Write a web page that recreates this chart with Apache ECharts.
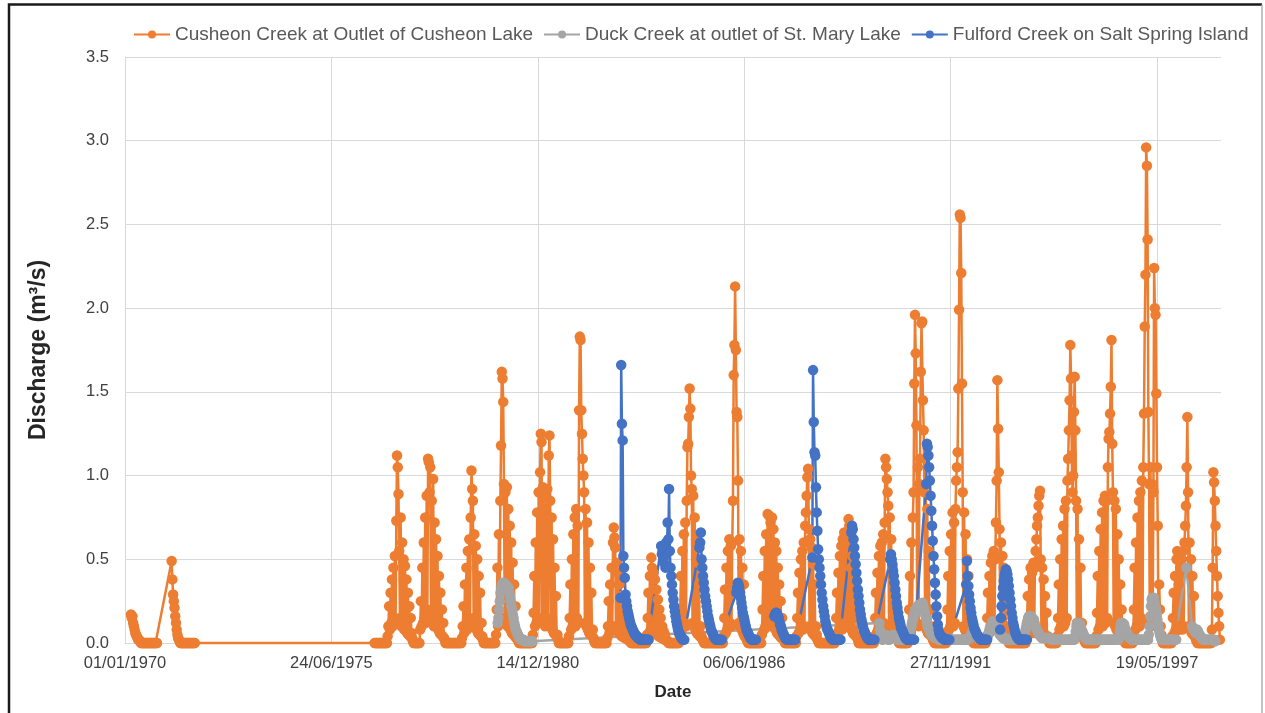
<!DOCTYPE html>
<html>
<head>
<meta charset="utf-8">
<title>Discharge</title>
<script src="https://cdn.jsdelivr.net/npm/echarts@6.0.0/dist/echarts.min.js"></script>
<style>
  html, body { margin: 0; padding: 0; background: #fff; }
  #chart { width: 1265px; height: 713px; }
</style>
</head>
<body>
<div id="chart"></div>
<script>
// weekly readings (m3/s); each block starts on the date in the matching *Start array
const seriesNames = [
  'Cusheon Creek at Outlet of Cusheon Lake',
  'Duck Creek at outlet of St. Mary Lake',
  'Fulford Creek on Salt Spring Island'
]

const cusheonStart = ['1970-02-28', '1971-03-29', '1976-08-16']
const cusheonFlow = [
  [.17,.15,.16,.12,.10,.08,.06,.05,.04,.03,.02,.02,.01,.01,0,0,0,0,0,0,0,0,0,0,0,0,0,0,0,0,0,0,0,0,0,0,0],
  [.49,.38,.29,.25,.21,.16,.12,.08,.05,.03,.02,.01,0,0,0,0,0,0,0,0,0,0,0,0,0,0,0,0,0,0,0,0,0],
  [
    0,0,0,0,0,0,0,0,0,0,0,0,0,0,0,0,0,0,.04,.10,.22,.08,.30,.12,.38,.10,.45,.15,.52,.12,.73,1.12,1.05,.89,.55,.15,.75,.10,.60,.12,.50,.08,.46,.10,.38,.06,.30,.05,.22,.04,.15,.06,
    .03,.01,0,0,0,0,0,0,0,0,0,.08,.25,.10,.45,.12,.60,.15,.75,.12,.88,.20,1.10,1.08,.90,1.05,.15,.85,.12,.98,.10,.72,.15,.62,.10,.52,.08,.40,.06,.30,.05,.20,.04,.12,.03,.02,0,0,0,0,0,0,
    0,0,0,0,0,0,0,0,0,0,0,0,0,0,0,0,0,.03,.10,.22,.06,.35,.10,.45,.08,.55,.12,.62,.10,.75,1.03,.92,.85,.15,.65,.10,.58,.08,.50,.06,.40,.05,.30,.04,.12,.04,.02,0,0,0,0,0,
    0,0,0,0,0,0,0,0,0,0,0,0,.05,.20,.45,.10,.65,.15,.85,1.18,1.62,1.58,1.44,.95,.15,.90,.12,.93,.10,.80,.12,.70,.08,.60,.06,.48,.05,.35,.04,.22,.03,.06,.03,.01,0,0,0,0,0,0,0,0,
    0,0,0,0,0,0,0,0,0,0,0,.05,.18,.40,.10,.60,.12,.78,.15,.90,.12,1.02,1.25,1.20,.15,.93,.12,.88,.10,.80,.15,.92,.12,1.12,1.24,.85,.10,.75,.08,.62,.06,.45,.05,.28,.04,.05,.02,0,0,0,0,0,
    0,0,0,0,0,0,0,0,0,.04,.15,.35,.08,.50,.10,.65,.12,.75,.10,.80,.15,.70,.12,1.39,1.83,1.81,1.39,1.25,1.10,1.0,.90,.12,.80,.10,.72,.08,.60,.06,.45,.05,.30,.04,.08,.03,.01,0,0,0,0,0,0,0,
    0,0,0,0,0,0,0,0,0,0,.03,.10,.25,.06,.35,.08,.45,.10,.60,.69,.63,.57,.10,.48,.08,.42,.06,.35,.05,.28,.04,.22,.04,.18,.03,.12,.03,.08,.02,.04,.02,.01,.01,0,0,0,0,0,0,0,0,0,
    0,0,0,0,0,0,0,0,0,0,0,0,0,.05,.15,.30,.06,.40,.08,.51,.45,.10,.42,.08,.38,.06,.32,.05,.26,.04,.20,.04,.15,.03,.10,.03,.07,.02,.05,.02,.02,.01,.01,0,0,0,0,0,0,0,0,0,
    0,0,0,0,0,0,.05,.20,.40,.08,.55,.10,.65,.12,.72,.10,.85,1.17,1.19,1.35,1.52,1.40,1.0,.92,.12,.88,.10,.75,.08,.62,.06,.48,.05,.35,.04,.10,.05,.03,.02,.01,0,0,0,0,0,0,0,0,0,0,0,0,
    0,0,0,0,0,0,0,0,0,0,0,0,0,0,0,.04,.15,.32,.06,.45,.08,.55,.10,.62,.12,.58,.10,.60,.85,1.60,1.78,2.13,1.75,1.38,1.35,.97,.12,.62,.10,.55,.08,.45,.06,.35,.04,.10,.05,.02,.01,0,0,0,
    0,0,0,0,0,0,0,0,0,0,0,0,0,0,0,0,.05,.20,.40,.08,.55,.10,.65,.12,.77,.10,.76,.12,.72,.10,.75,.12,.68,.10,.60,.08,.55,.06,.45,.05,.35,.04,.25,.03,.15,.03,.04,.02,0,0,0,0,
    0,0,0,0,0,0,0,0,0,0,0,0,.04,.15,.30,.06,.42,.08,.50,.10,.55,.08,.60,.10,.70,.78,.88,.99,1.04,.68,.10,.62,.08,.57,.06,.47,.05,.35,.04,.10,.05,.02,.01,0,0,0,0,0,0,0,0,0,
    0,0,0,0,0,0,0,0,0,0,0,0,0,0,.04,.15,.30,.06,.42,.08,.52,.10,.58,.08,.62,.10,.66,.12,.60,.10,.64,.12,.74,.70,.10,.45,.08,.52,.06,.42,.05,.30,.04,.18,.04,.02,0,0,0,0,0,0,
    0,0,0,0,0,0,0,0,0,0,0,0,0,0,0,0,.04,.15,.30,.06,.42,.08,.52,.10,.58,.08,.60,.10,.65,.12,.72,1.10,1.05,.98,.90,.82,.10,.75,.08,.62,.06,.45,.05,.30,.04,.18,.03,.05,.02,.01,0,0,
    0,0,0,0,0,0,0,0,0,0,0,.05,.20,.40,.08,.60,.10,.75,.90,1.55,1.96,1.73,1.30,.12,1.05,.10,.95,1.10,1.62,1.91,1.92,1.45,1.27,.90,.10,.95,.08,.80,.06,.55,.05,.20,.10,.05,.03,.02,.01,0,0,0,0,0,
    0,0,0,0,0,0,0,0,0,0,0,0,.05,.20,.40,.08,.55,.10,.65,.12,.78,.10,.72,.12,.80,.97,1.05,1.14,1.52,1.99,2.56,2.54,2.21,1.55,.90,.10,.78,.08,.65,.06,.50,.05,.40,.04,.15,.08,.04,.02,.01,0,0,0,
    0,0,0,0,0,0,0,0,0,0,0,0,0,0,0,.04,.15,.30,.06,.40,.08,.48,.10,.52,.08,.55,.10,.50,.72,.97,1.57,1.28,1.02,.68,.10,.60,.08,.52,.06,.45,.05,.30,.04,.10,.05,.02,0,0,0,0,0,0,
    0,0,0,0,0,0,0,0,0,0,0,0,0,0,0,0,0,0,.04,.12,.28,.05,.38,.06,.45,.08,.42,.06,.48,.08,.45,.55,.62,.70,.75,.82,.88,.91,.50,.08,.45,.06,.38,.05,.28,.04,.18,.03,.04,.02,0,0,
    0,0,0,0,0,0,0,0,0,.04,.15,.35,.08,.50,.10,.62,.12,.70,.10,.80,.12,.85,.15,.97,1.10,1.27,1.45,1.78,1.58,1.12,.90,1.00,1.38,1.59,1.27,.85,.12,.80,.10,.62,.08,.45,.06,.12,.05,.03,.02,.01,0,0,0,0,
    0,0,0,0,0,0,0,0,0,0,0,.04,.18,.40,.08,.55,.10,.68,.12,.78,.10,.85,.15,.88,.12,.85,.15,1.05,1.22,1.26,1.37,1.53,1.81,1.19,.90,.12,.85,.10,.80,.08,.65,.06,.50,.05,.35,.04,.20,.08,.04,.02,.01,0,
    0,0,0,0,0,0,0,0,0,0,.05,.20,.45,.08,.60,.10,.75,.12,.85,.10,.90,.15,.97,.12,1.05,1.37,1.89,2.20,2.96,2.85,2.41,1.38,.95,.12,1.05,.10,.95,.12,.90,2.24,2.0,1.96,1.49,1.05,.70,.10,.35,.20,.10,.05,.02,0,
    0,0,0,0,0,0,0,0,0,0,0,0,.04,.15,.30,.06,.40,.08,.50,.55,.10,.35,.08,.45,.10,.50,.08,.55,.10,.60,.70,.82,1.05,1.35,.90,.10,.60,.08,.50,.06,.40,.05,.28,.04,.04,.02,.01,0,0,0,0,0,
    0,0,0,0,0,0,0,0,0,0,0,0,0,0,0,.08,.45,1.02,.96,.85,.70,.55,.40,.28,.18,.10,.02
  ]
]

const duckStart = ['1979-11-21', '1990-01-05']
const duckFlow = [
  [.12,.15,.20,.25,.30,.33,.35,.36,.35,.36,.34,.35,.33,.34,.32,.33,.30,.28,.25,.22,.20,.17,.15,.12,.10,.08,.07,.06,.05,.04,.03,.03,.02,.02,.02,.02,.02,.01,.01,.01,.01,.01,.01,.01,.01,.01,.01,.01,.01],
  [
    .12,.08,.05,.03,.02,.02,.03,.04,.05,.04,.03,.03,.02,.02,.02,.03,.03,.04,.04,.05,.04,.04,.03,.03,.03,.02,.02,.02,.02,.02,.02,.02,.02,.02,.02,.02,.02,.02,.02,.03,.03,.04,.05,.07,.09,.11,.13,.15,.17,.19,.20,.20,
    .21,.22,.22,.23,.22,.21,.20,.22,.24,.22,.20,.18,.16,.14,.12,.10,.09,.08,.07,.06,.05,.05,.04,.04,.04,.03,.03,.03,.03,.03,.02,.02,.02,.02,.02,.02,.02,.02,.02,.02,.02,.02,.02,.02,.02,.02,.02,.02,.02,.02,.02,.02,
    .02,.02,.02,.02,.02,.02,.02,.02,.02,.02,.02,.02,.02,.02,.02,.02,.02,.02,.02,.02,.03,.03,.04,.05,.06,.07,.08,.07,.06,.05,.04,.04,.03,.03,.03,.03,.02,.02,.02,.02,.02,.02,.02,.02,.02,.03,.04,.05,.07,.09,.10,.10,
    .12,.13,.12,.11,.12,.10,.09,.10,.08,.07,.06,.05,.05,.04,.04,.03,.03,.03,.03,.02,.02,.02,.02,.02,.02,.02,.02,.02,.02,.02,.02,.02,.02,.02,.02,.02,.02,.02,.02,.02,.02,.02,.03,.03,.04,.05,.07,.09,.11,.13,.15,.16,
    .16,.15,.16,.14,.15,.13,.14,.12,.10,.09,.08,.07,.06,.05,.05,.04,.04,.03,.03,.03,.03,.03,.03,.03,.03,.03,.03,.03,.03,.03,.02,.02,.02,.02,.02,.02,.02,.02,.02,.02,.02,.02,.02,.02,.02,.02,.02,.02,.02,.02,.02,.02,
    .02,.02,.02,.02,.02,.02,.02,.02,.02,.02,.02,.04,.07,.10,.12,.11,.12,.10,.11,.09,.08,.07,.06,.05,.04,.03,.03,.02,.02,.02,.02,.02,.02,.02,.02,.02,.02,.02,.02,.02,.02,.02,.02,.02,.02,.02,.02,.02,.02,.02,.02,.02,
    .02,.02,.02,.02,.02,.02,.02,.02,.02,.02,.02,.02,.02,.02,.02,.02,.02,.02,.02,.02,.04,.07,.10,.12,.11,.12,.10,.11,.09,.08,.07,.06,.05,.04,.03,.03,.03,.02,.02,.02,.02,.02,.02,.02,.02,.02,.02,.02,.02,.02,.02,.02,
    .02,.02,.02,.02,.02,.02,.02,.02,.02,.05,.10,.16,.22,.26,.27,.25,.27,.24,.22,.20,.17,.14,.11,.08,.06,.04,.03,.02,.02,.02,.02,.02,.02,.02,.02,.02,.02,.02,.02,.02,.02,.02,.02,.02,.02,.02,.02,.02,null,null,null,null,
    null,null,null,null,null,null,null,null,null,.45,null,null,null,null,null,null,null,.10,.09,.08,.08,.07,.06,.07,.08,.07,.06,.05,.04,.04,.03,.03,.02,.02,.02,.02,.02,.02,.02,.02,.02,.02,.02,.02,.02,.02,.02,.02,.02,.01
  ]
]

const fulfordStart = ['1983-02-23', '1984-03-23', '1985-03-29', '1986-03-22', '1987-03-25', '1988-03-27',
  '1989-04-09', '1990-04-21', '1991-04-05', '1992-04-26', '1993-03-21']
const fulfordFlow = [
  [.27,1.66,1.31,1.21,.52,.45,.39,.29,.25,.22,.19,.17,.15,.13,.11,.10,.09,.08,.07,.06,.05,.05,.04,.04,.03,.03,.03,.02,.02,.02,.02,.02,.02,.02,.02,.02,.02,.02,.02,.02],
  [.58,.53,.55,.50,.48,.52,.45,.60,.55,.72,.62,.92,.55,.45,.40,.35,.30,.26,.22,.19,.16,.13,.11,.09,.07,.06,.05,.04,.03,.03,.02,.02,.02],
  [.57,.60,.66,.50,.45,.40,.36,.32,.28,.25,.22,.19,.16,.14,.12,.10,.08,.07,.06,.05,.04,.03,.03,.02,.02,.02,.02,.02,.02,.02,.02,.02],
  [.30,.33,.36,.35,.33,.30,.27,.24,.21,.18,.16,.14,.12,.10,.08,.07,.06,.05,.04,.03,.03,.02,.02,.02,.02,.02,.02,.02],
  [.16,.17,.18,.18,.17,.16,.15,.13,.11,.10,.08,.07,.06,.05,.04,.03,.03,.02,.02,.02,.02,.02,.02,.02,.02,.02,.02,.02,.02,.02],
  [.51,1.63,1.32,1.14,1.12,.93,.78,.67,.56,.50,.45,.40,.35,.30,.26,.22,.19,.16,.13,.11,.09,.08,.07,.06,.05,.04,.03,.03,.02,.02,.02,.02,.02,.02,.02,.02,.02,.02,.02,.02],
  [.66,.70,.68,.62,.57,.52,.47,.42,.37,.32,.28,.24,.20,.17,.14,.12,.10,.08,.07,.06,.05,.04,.03,.03,.02,.02,.02,.02,.02,.02,.02,.02,.02],
  [.50,.53,.50,.47,.43,.40,.36,.32,.28,.24,.21,.18,.15,.13,.11,.09,.08,.07,.06,.05,.04,.03,.03,.02,.02,.02,.02,.02,.02,.02,.02,.02,.02,.02],
  [.95,1.19,1.17,1.12,1.05,.97,.88,.79,.70,.61,.52,.44,.36,.29,.22,.16,.11,.08,.06,.05,.04,.04,.03,.03,.03,.02,.02,.02,.02,.02,.02,.02,.02],
  [.35,.49,.40,.34,.29,.25,.21,.18,.15,.13,.11,.09,.08,.07,.06,.05,.04,.04,.03,.03,.02,.02,.02,.02,.02,.02,.02,.02,.02,.02],
  [.08,.15,.22,.28,.33,.37,.40,.42,.44,.43,.41,.38,.34,.30,.26,.22,.18,.15,.12,.10,.08,.06,.05,.04,.03,.03,.02,.02,.02,.02,.02,.02,.02,.02,.02,.02,.02,.02]
]

const yTicks = [0, 0.5, 1, 1.5, 2, 2.5, 3, 3.5]
const xTickDays = 2000

const DAY = 86400000
const STEP = 7

function toDay (s) {
  return Date.UTC(+s.slice(0, 4), +s.slice(5, 7) - 1, +s.slice(8, 10)) / DAY
}

// turn start dates + weekly readings into [day, value] points, dropping missing readings
function toPoints (starts, flows) {
  const pts = []
  starts.forEach((s, k) => {
    const d0 = toDay(s)
    flows[k].forEach((v, i) => {
      if (v !== null) pts.push([d0 + i * STEP, v])
    })
  })
  return pts
}

function fmtDate (v) {
  const d = new Date(v * DAY)
  const p = n => (n < 10 ? '0' : '') + n
  return p(d.getUTCDate()) + '/' + p(d.getUTCMonth() + 1) + '/' + d.getUTCFullYear()
}

const colors = ['#ED7D31', '#A5A5A5', '#4472C4']
const font = 'Liberation Sans'

const myChart = echarts.init(document.getElementById('chart'), null, { renderer: 'canvas' })

const lineSeries = (name, data, color) => ({
  name,
  type: 'line',
  data,
  color,
  symbol: 'circle',
  symbolSize: 10.5,
  showSymbol: true,
  showAllSymbol: true,
  clip: false,
  lineStyle: { width: 2.5, color },
  itemStyle: { color },
  emphasis: { disabled: true },
  silent: true,
  animation: false
})

const option = {
  animation: false,
  textStyle: { fontFamily: font },
  graphic: [
    {
      type: 'polyline',
      shape: { points: [[9, 713], [9, 4.5], [1262, 4.5]] },
      style: { stroke: '#1a1a1a', lineWidth: 2.5, fill: null }
    },
    {
      type: 'line',
      shape: { x1: 1262, y1: 4.5, x2: 1262, y2: 713 },
      style: { stroke: '#b0b0b0', lineWidth: 1.5 }
    }
  ],
  legend: {
    data: seriesNames,
    left: 128,
    top: 20,
    itemWidth: 36,
    itemHeight: 10,
    itemGap: 10,
    textStyle: { fontSize: 19, color: '#595959', fontFamily: font }
  },
  grid: {
    left: 125,
    right: 44,
    top: 57,
    bottom: 70,
    containLabel: false,
    outerBoundsMode: 'none'
  },
  xAxis: {
    type: 'value',
    min: 0,
    max: 10620,
    interval: xTickDays,
    name: 'Date',
    nameLocation: 'middle',
    nameGap: 41,
    nameTextStyle: { fontSize: 17, fontWeight: 'bold', color: '#262626', fontFamily: font },
    axisLine: { show: true, lineStyle: { color: '#d9d9d9', width: 1 } },
    axisTick: { show: false },
    axisLabel: {
      fontSize: 16.5,
      color: '#404040',
      margin: 12,
      showMaxLabel: false,
      formatter: v => (v % xTickDays === 0 ? fmtDate(v) : '')
    },
    splitLine: { show: true, showMaxLine: false, lineStyle: { color: '#d9d9d9', width: 1 } }
  },
  yAxis: {
    type: 'value',
    min: yTicks[0],
    max: yTicks[yTicks.length - 1],
    interval: 0.5,
    name: 'Discharge (m³/s)',
    nameLocation: 'middle',
    nameGap: 75,
    nameTextStyle: { fontSize: 23, fontWeight: 'bold', color: '#262626', fontFamily: font },
    axisLine: { show: true, lineStyle: { color: '#d9d9d9', width: 1 } },
    axisTick: { show: false },
    axisLabel: {
      fontSize: 16.5,
      color: '#404040',
      margin: 16,
      formatter: v => v.toFixed(1)
    },
    splitLine: { show: true, lineStyle: { color: '#d9d9d9', width: 1 } }
  },
  series: [
    lineSeries(seriesNames[0], toPoints(cusheonStart, cusheonFlow), colors[0]),
    lineSeries(seriesNames[1], toPoints(duckStart, duckFlow), colors[1]),
    lineSeries(seriesNames[2], toPoints(fulfordStart, fulfordFlow), colors[2])
  ]
}

myChart.setOption(option)
</script>
</body>
</html>
